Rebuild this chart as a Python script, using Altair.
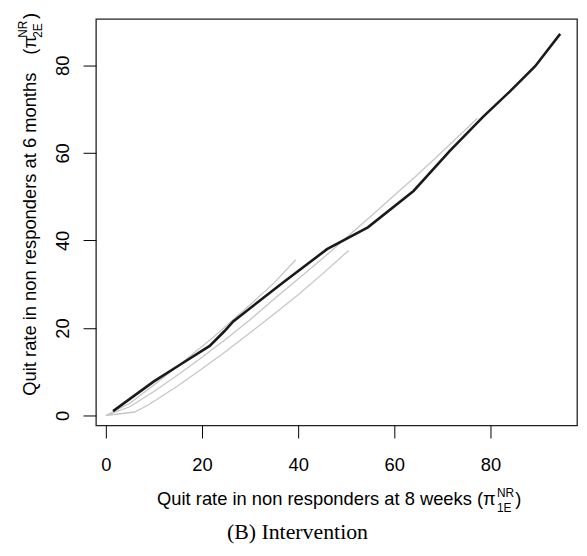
import altair as alt
import pandas as pd

# ---- data ----
black_x = [1.5, 5, 10, 16, 21.6, 24.7, 26.5, 30, 37, 46, 54.5, 64, 71.5, 78.5, 84, 89.3, 94.5]
black_y = [1.0, 3.8, 7.8, 12.0, 15.9, 19.3, 21.5, 24.5, 30.5, 38.0, 43.0, 51.3, 60.4, 68.3, 74.0, 79.8, 87.2]

grayA_x = [0, 5, 10, 15, 22.3, 30, 35, 39.5]
grayA_y = [0, 2.8, 7.0, 11.3, 17.8, 25.3, 30.3, 35.6]

grayB_x = [0, 5, 10, 15, 20, 25, 30, 35, 40, 45, 50, 55, 60, 65, 70, 77.3]
grayB_y = [0, 2.0, 5.5, 9.3, 13.3, 17.5, 21.9, 26.6, 31.2, 35.8, 40.6, 45.4, 50.3, 55.2, 60.3, 67.9]

grayC_x = [0, 6, 9, 15, 20, 25, 30, 35, 40, 45, 50.5]
grayC_y = [0, 0.8, 2.5, 6.8, 10.7, 14.7, 18.9, 23.2, 27.6, 32.3, 37.7]

tick_values = [0, 20, 40, 60, 80]

rows = []
for name, xs, ys in [("A", grayA_x, grayA_y), ("B", grayB_x, grayB_y), ("C", grayC_x, grayC_y)]:
    for i, (xv, yv) in enumerate(zip(xs, ys)):
        rows.append({"series": name, "x": xv, "y": yv, "order": i})
gray_df = pd.DataFrame(rows)
black_df = pd.DataFrame({"x": black_x, "y": black_y, "order": list(range(len(black_x)))})

FONT = "Liberation Sans"
xscale = alt.Scale(domain=[-2.06, 98.0], nice=False, zero=False)
yscale = alt.Scale(domain=[-2.26, 90.6], nice=False, zero=False)

xaxis = alt.Axis(values=tick_values, title=None, grid=False, domain=False,
                 tickSize=12.7, tickColor="#000", tickWidth=1,
                 labelFont=FONT, labelFontSize=18.5, labelColor="#000",
                 labelPadding=32.3, labelBaseline="alphabetic", labelFlush=False, format="d")
yaxis = alt.Axis(values=tick_values, title=None, grid=False, domain=False,
                 tickSize=13, tickColor="#000", tickWidth=1,
                 labelFont=FONT, labelFontSize=18.5, labelColor="#000",
                 labelAngle=270, labelAlign="center", labelBaseline="alphabetic",
                 labelPadding=14.7, labelFlush=False, format="d")

X = alt.X("x:Q", scale=xscale, axis=xaxis)
Y = alt.Y("y:Q", scale=yscale, axis=yaxis)

gray = alt.Chart(gray_df).mark_line(color="#c6c6c6", strokeWidth=1.3).encode(
    x=X, y=Y, detail="series:N", order="order:Q")
black = alt.Chart(black_df).mark_line(color="#1a1a1a", strokeWidth=2.6).encode(
    x=X, y=Y, order="order:Q")


def txt(s, x, y, size, angle=0, align="left", font=FONT):
    return alt.Chart(alt.Data(values=[{"t": s}])).mark_text(
        text=s, align=align, baseline="alphabetic", angle=angle,
        fontSize=size, font=font, color="#000").encode(x=alt.value(x), y=alt.value(y))


texts = [
    # x axis title
    txt("Quit rate in non responders at 8 weeks (\u03c0", 403.3, 490, 18.5, align="right"),
    txt("NR", 404.5, 482, 12),
    txt("1E", 404.5, 497.5, 12),
    txt(")", 423, 490, 18.5),
    # y axis title (rotated)
    txt("Quit rate in non responders at 6 months", -60.2, 380, 18.5, angle=270),
    txt("(\u03c0", -60.2, 36, 18.5, angle=270),
    txt("NR", -69.5, 19, 12, angle=270),
    txt("2E", -54.5, 19, 12, angle=270),
    txt(")", -60.2, 0, 18.5, angle=270),
    # caption
    txt("(B) Intervention", 203.3, 525, 22, align="center", font="Liberation Serif"),
]

chart = alt.layer(gray, black, *texts).properties(
    width=485.3, height=410,
    padding={"left": 88.7, "top": 8.7, "right": 2, "bottom": 121},
    autosize=alt.AutoSizeParams(type="none"),
).configure_view(stroke="#222", strokeWidth=1.3)

chart.save("out.html", embed_options={"renderer": "svg", "actions": False})
